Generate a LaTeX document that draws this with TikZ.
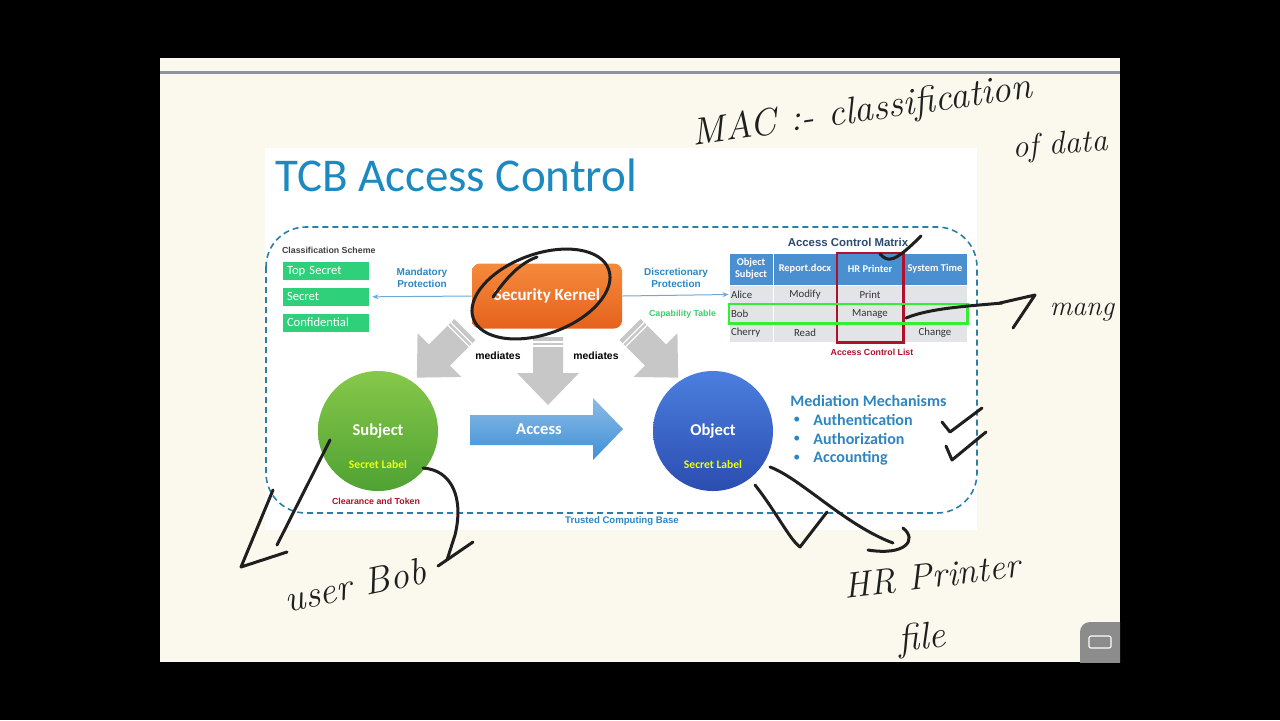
\documentclass[tikz,border=0pt]{standalone}
\usepackage{fontspec}
\newfontfamily\slidefont{Carlito}
\newfontfamily\arialfont{Liberation Sans}
\usetikzlibrary{positioning,arrows.meta,calc}
\definecolor{pagecream}{HTML}{FBF9EE}
\definecolor{rulegray}{HTML}{8C939E}
\definecolor{titleblue}{HTML}{1C8AC0}
\definecolor{protblue}{HTML}{2E86C1}
\definecolor{tcbline}{HTML}{2A7FA8}
\definecolor{clsgreen}{HTML}{2FD07A}
\definecolor{capgreen}{HTML}{3BD16F}
\definecolor{rowgreen}{HTML}{33EE33}
\definecolor{aclred}{HTML}{B0102A}
\definecolor{hdrblue}{HTML}{4A8FD0}
\definecolor{cellgray}{HTML}{E2E4E8}
\definecolor{matrixslate}{HTML}{2C4A6E}
\definecolor{labelyellow}{HTML}{EEFF11}
\definecolor{accblue}{HTML}{3E8FD6}
\definecolor{krntop}{HTML}{F58A3C}
\definecolor{krnbot}{HTML}{E5621C}
\definecolor{subjtop}{HTML}{86C84A}
\definecolor{subjbot}{HTML}{4FA233}
\definecolor{objtop}{HTML}{4B7FDF}
\definecolor{objbot}{HTML}{2B4DB0}
\newcommand{\fsize}[1]{\fontsize{#1}{#1}\selectfont}

\begin{document}
\begin{tikzpicture}[x=0.5pt, y=-0.5pt,
  lvl/.style={fill=clsgreen, text=white, font=\slidefont\fsize{6.3},
              minimum height=9pt, text width=39pt, inner xsep=2pt,
              inner ysep=0pt, align=left},
  prot/.style={text=protblue, font=\arialfont\bfseries\fontsize{5}{6.2}\selectfont,
               align=center},
  kernel/.style={rounded corners=4pt, top color=krntop, bottom color=krnbot,
                 text=white, font=\slidefont\bfseries\fsize{8.5},
                 minimum width=75pt, minimum height=32.5pt},
  flow/.style={-{Stealth[length=3pt,width=2.5pt]}, draw=protblue!70,
               line width=0.5pt},
  medarrow/.style={fill=black!22},
  actor/.style={circle, minimum size=60pt, inner sep=0pt},
  actorname/.style={text=white, font=\slidefont\bfseries\fsize{8.3}},
  seclabel/.style={text=labelyellow, font=\slidefont\bfseries\fsize{5.8}},
  note/.style={font=\arialfont\bfseries\fsize{4.4}},
  hcell/.style={fill=hdrblue, draw=white, line width=0.4pt, text=white,
                font=\slidefont\bfseries\fontsize{5.2}{6}\selectfont,
                minimum height=16pt, inner sep=0pt, align=center},
  bcell/.style={fill=cellgray, draw=white, line width=0.4pt,
                text=black!80, font=\slidefont\fsize{5.4},
                minimum height=9.5pt, inner sep=0pt},
  mech/.style={text=protblue, font=\slidefont\bfseries\fsize{8},
               anchor=west, inner sep=0pt},
  ink/.style={draw=black!88, line width=1.5pt, line cap=round,
              line join=round},
  hand/.style={text=black!88, font=\itshape\fsize{19}, inner sep=1pt},
]
% ---- screen, page and slide ----
\fill[black] (0,0) rectangle (1280,720);
\useasboundingbox (0,0) rectangle (1280,720);
\fill[pagecream] (160,58) rectangle (1120,662);
\fill[rulegray] (160,71) rectangle (1120,74);
\fill[white] (265,148) rectangle (977,530);
\begin{scope}
  \clip (1080,622) rectangle (1120,662);
  \fill[black!45, rounded corners=5pt] (1080,622) rectangle (1150,690);
\end{scope}
\draw[white, line width=0.6pt, rounded corners=1pt] (1089,636) rectangle (1111,648);

% ---- title and boundary ----
\node[anchor=west, text=titleblue, font=\slidefont\fsize{23.5}] (title) at (268,175) {TCB Access Control};
\draw[tcbline, line width=0.8pt, dash pattern=on 3pt off 2pt, rounded corners=20pt] (266,227) rectangle (977,513);
\node[text=protblue, note, font=\arialfont\bfseries\fsize{4.8}] (tcb) at (622,521) {Trusted Computing Base};

% ---- classification scheme ----
\node[anchor=west, text=black!75, note] (scheme) at (275,250) {Classification Scheme};
\node[lvl] (topsec) at (326,271) {Top Secret};
\node[lvl, below=3.5pt of topsec] (secret) {Secret};
\node[lvl, below=3.5pt of secret] (conf) {Confidential};

% ---- security kernel ----
\node[kernel] (kernel) at (547,296) {Security Kernel};
\node[prot] (mand) at (422,278) {Mandatory\\Protection};
\node[prot] (disc) at (676,278) {Discretionary\\Protection};
\draw[flow] (kernel.west) -- ($(secret.east)+(3,0)$);

% ---- access control matrix ----
\node[text=matrixslate, font=\arialfont\bfseries\fsize{5.7}] (acm) at (848,242) {Access Control Matrix};
\node[hcell, minimum width=22pt] (h1) at (751,269) {Object\\Subject};
\node[hcell, minimum width=32pt] (h2) at (805,269) {Report.docx};
\node[hcell, minimum width=33pt] (h3) at (870,269) {HR Printer};
\node[hcell, minimum width=32pt] (h4) at (935,269) {System Time};
\node[bcell, minimum width=22pt, text width=20pt, align=left] (a1) at (751,294.5) {Alice};
\node[bcell, minimum width=32pt] (a2) at (805,294.5) {Modify};
\node[bcell, minimum width=33pt] (a3) at (870,294.5) {Print};
\node[bcell, minimum width=32pt] (a4) at (935,294.5) {};
\node[bcell, minimum width=22pt, text width=20pt, align=left] (b1) at (751,313.5) {Bob};
\node[bcell, minimum width=32pt] (b2) at (805,313.5) {};
\node[bcell, minimum width=33pt] (b3) at (870,313.5) {Manage};
\node[bcell, minimum width=32pt] (b4) at (935,313.5) {};
\node[bcell, minimum width=22pt, text width=20pt, align=left] (c1) at (751,332.5) {Cherry};
\node[bcell, minimum width=32pt] (c2) at (805,332.5) {Read};
\node[bcell, minimum width=33pt] (c3) at (870,332.5) {};
\node[bcell, minimum width=32pt] (c4) at (935,332.5) {Change};
\draw[aclred, line width=1.1pt] (h3.north west) rectangle (c3.south east);
\draw[rowgreen, line width=1.1pt] (b1.north west) rectangle (b4.south east);
\node[text=aclred, note] (acl) at (872,352) {Access Control List};
\node[text=capgreen, note, anchor=east] (cap) at (723,314) {Capability Table};
\draw[flow] (kernel.east) -- (a1.west);

% ---- mediation arrows ----
\foreach \px/\py/\ang in {439.5/355/-45, 548/373/0, 655.5/355/45}{
  \begin{scope}[shift={(\px,\py)}, rotate=\ang]
    \fill[medarrow] (-15,-36) -- (15,-36) -- (15,0) -- (31,0) -- (0,32)
      -- (-31,0) -- (-15,0) -- cycle;
    \draw[white, line width=0.6pt] (-15,-31) -- (15,-31) (-15,-27) -- (15,-27);
  \end{scope}
}
\node[note, font=\arialfont\bfseries\fsize{5.2}] (med1) at (498,356) {mediates};
\node[note, font=\arialfont\bfseries\fsize{5.2}] (med2) at (596,356) {mediates};

% ---- subject, access, object ----
\node[actor, top color=subjtop, bottom color=subjbot] (subj) at (378,431) {};
\node[actorname] (subjname) at (subj.center) {Subject};
\node[seclabel] (subjlbl) at ($(subj.center)+(0,33)$) {Secret Label};
\node[text=aclred, note] (clear) at (376,501) {Clearance and Token};
\shade[top color=accblue!60!white, bottom color=accblue] (470,415) -- (593,415)
  -- (593,398) -- (623,429) -- (593,460) -- (593,445) -- (470,445) -- cycle;
\node[actorname] (access) at (539,429) {Access};
\node[actor, top color=objtop, bottom color=objbot] (obj) at (713,431) {};
\node[actorname] (objname) at (obj.center) {Object};
\node[seclabel] (objlbl) at ($(obj.center)+(0,33)$) {Secret Label};

% ---- mediation mechanisms ----
\node[mech] (mm) at (790,401) {Mediation Mechanisms};
\node[mech] (auth1) at (813,420) {Authentication};
\node[mech] (auth2) at (813,439) {Authorization};
\node[mech] (acct) at (813,458) {Accounting};
\foreach \n in {auth1,auth2,acct}
  \node[mech, font=\slidefont\fsize{7}] at ($(\n.west)+(-20,0)$) {\textbullet};

% ---- handwritten notes ----
\draw[ink, rotate around={20:(541,294)}] (541,294) ellipse [x radius=72, y radius=40];
\draw[ink] (493,297) .. controls (505,280) and (518,264) .. (537,257);
\draw[ink] (880,254) .. controls (888,262) and (893,264) .. (921,236);
\draw[ink] (906,318) .. controls (930,308) and (970,306) .. (1002,303);
\draw[ink] (1000,303) -- (1035,295) -- (1013,328);
\node[hand, rotate=8] (mac) at (862,112) {MAC :- classification};
\node[hand, font=\itshape\fsize{16}, rotate=4] (ofdata) at (1060,146) {of data};
\node[hand, font=\itshape\fsize{14}] (mang) at (1082,312) {mang};
\draw[ink] (330,440) -- (277,545);
\draw[ink] (273,490) -- (241,567) -- (287,552);
\draw[ink] (423,468) .. controls (452,470) and (464,498) .. (455,535) -- (447,560);
\draw[ink] (473,542) -- (438,566);
\node[hand, rotate=12] (user) at (355,585) {user Bob};
\draw[ink] (755,485) .. controls (775,510) and (790,540) .. (800,547) -- (827,512);
\draw[ink] (770,467) .. controls (800,478) and (845,525) .. (893,543);
\draw[ink] (903,528) .. controls (918,540) and (905,556) .. (868,550);
\node[hand, font=\itshape\fsize{18}, rotate=7] (printer) at (932,576) {HR Printer};
\node[hand, rotate=6] (file) at (922,640) {file};
\draw[ink] (942,422) -- (950,432) -- (982,408);
\draw[ink] (946,446) -- (952,460) -- (986,432);
\end{tikzpicture}
\end{document}
